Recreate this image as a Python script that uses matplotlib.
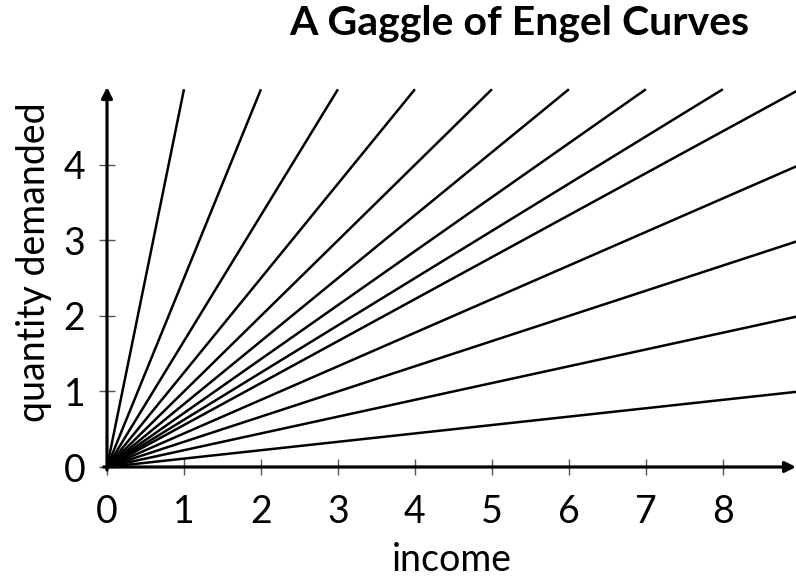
import matplotlib
matplotlib.use('Agg')
import matplotlib.pyplot as plt

plt.rcParams['font.family'] = ['Lato', 'DejaVu Sans']

# Engel curves: straight lines through the origin
# ending either on the top edge (income at quantity 5) or on the right edge (quantity at income 9)
top_income = [1, 2, 3, 4, 5, 6, 7, 8, 9]
top_quantity = 5
right_income = 9
right_quantity = [4, 3, 2, 1]

xticks = [0, 1, 2, 3, 4, 5, 6, 7, 8]
yticks = [0, 1, 2, 3, 4]

W, H = 796, 577
fig = plt.figure(figsize=(W/100, H/100), dpi=100)
ax = fig.add_axes([107/W, 110/H, 689/W, 380/H])

for inc in top_income:
    ax.plot([0, inc], [0, top_quantity], color='black', lw=1.8, solid_capstyle='butt')
for q in right_quantity:
    ax.plot([0, right_income], [0, q], color='black', lw=1.8, solid_capstyle='butt')

ax.set_xlim(0, 8.95)
ax.set_ylim(0, 5.03)
for s in ax.spines.values():
    s.set_visible(False)

# axis arrows
ax.annotate('', xy=(1.0, 0), xytext=(-0.005, 0), xycoords='axes fraction',
            arrowprops=dict(arrowstyle='-|>', lw=2.3, color='black', mutation_scale=16,
                            shrinkA=0, shrinkB=0))
ax.annotate('', xy=(0, 1.0), xytext=(0, -0.008), xycoords='axes fraction',
            arrowprops=dict(arrowstyle='-|>', lw=2.3, color='black', mutation_scale=16,
                            shrinkA=0, shrinkB=0))

ax.set_xticks(xticks)
ax.set_yticks(yticks)
ax.tick_params(direction='inout', length=11, width=1.0, color='#555555',
               labelsize=27)
ax.tick_params(axis='x', pad=14)
ax.tick_params(axis='y', pad=10)

# axis titles placed in pixel terms
fig.text(452/W, 1 - 571/H, 'income', fontsize=27, ha='center', va='baseline')
fig.text(34/W, 1 - 262/H, 'quantity demanded', fontsize=27, rotation=90,
         ha='center', va='center')

fig.text(519/W, 1 - 35/H, 'A Gaggle of Engel Curves', fontsize=29.5,
         fontweight='bold', ha='center', va='baseline')

fig.savefig('out.png', dpi=100)
